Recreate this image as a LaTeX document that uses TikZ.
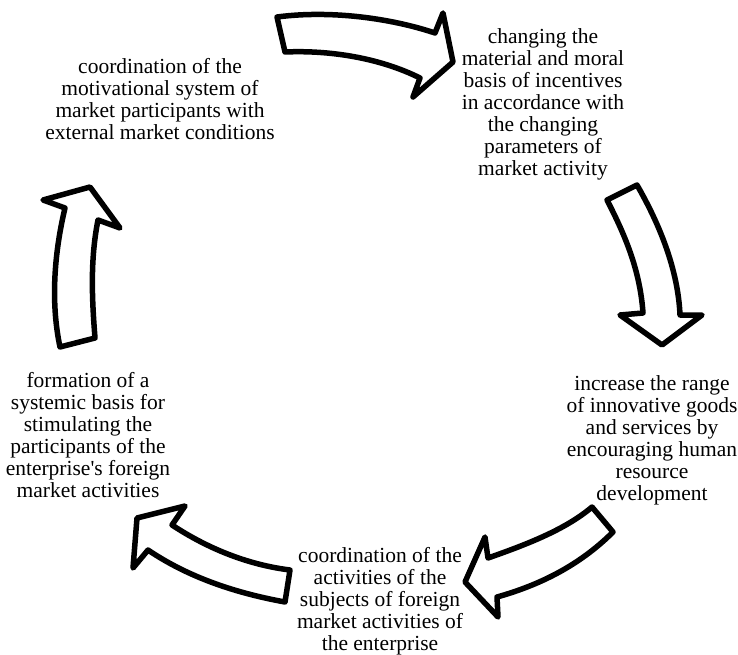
\documentclass[tikz,border=0pt]{standalone}
\usepackage{fontspec}
\setmainfont{Liberation Serif}[Ligatures=TeXOff]
\usepackage{tikz}
\usetikzlibrary{positioning}
\tikzset{
  % hollow block arrow with a heavy black outline
  bigarr/.style = {draw=black, fill=white, line width=5.5pt, line join=round},
  lbl/.style    = {align=center, inner sep=0pt,
                   font=\fontsize{21.5}{22}\selectfont},
}
\begin{document}
\begin{tikzpicture}[x=1pt,y=-1pt]
\useasboundingbox (0,0) rectangle (738,655);
% labels
\node[lbl] (coord) at (160,99)
  {coordination of the\\motivational system of\\market participants with\\external market conditions};
\node[lbl] (change) at (543,104)
  {changing the\\material and moral\\basis of incentives\\in accordance with\\the changing\\parameters of\\market activity};
\node[lbl] (range) at (652,440)
  {increase the range\\of innovative goods\\and services by\\encouraging human\\resource\\development};
\node[lbl] (subj) at (380,601)
  {coordination of the\\activities of the\\subjects of foreign\\market activities of\\the enterprise};
\node[lbl] (form) at (88,435)
  {formation of a\\systemic basis for\\stimulating the\\participants of the\\enterprise's foreign\\market activities};
% top arrow
\draw[bigarr] (277,17) .. controls (330,10) and (390,18) .. (435,33)
  -- (443,13) -- (453,62) -- (413,97) -- (420,78)
  .. controls (380,58) and (330,50) .. (285,52) -- cycle;
% right arrow
\draw[bigarr] (637,185) .. controls (660,225) and (678,270) .. (680,315)
  -- (702,315) -- (662,345) -- (620,315) -- (643,313)
  .. controls (640,270) and (625,235) .. (607,200) -- cycle;
% bottom right arrow
\draw[bigarr] (613,532) .. controls (580,565) and (540,585) .. (497,597)
  -- (498,617) -- (465,582) -- (485,537) -- (488,558)
  .. controls (525,545) and (565,530) .. (592,507) -- cycle;
% bottom left arrow
\draw[bigarr] (285,602) .. controls (230,592) and (185,575) .. (148,550)
  -- (133,568) -- (137,518) -- (185,506) -- (172,525)
  .. controls (210,550) and (250,565) .. (290,570) -- cycle;
% left arrow
\draw[bigarr] (60,347) .. controls (50,300) and (55,250) .. (65,208)
  -- (43,200) -- (90,187) -- (120,228) -- (98,220)
  .. controls (90,260) and (92,300) .. (95,338) -- cycle;
\end{tikzpicture}
\end{document}
